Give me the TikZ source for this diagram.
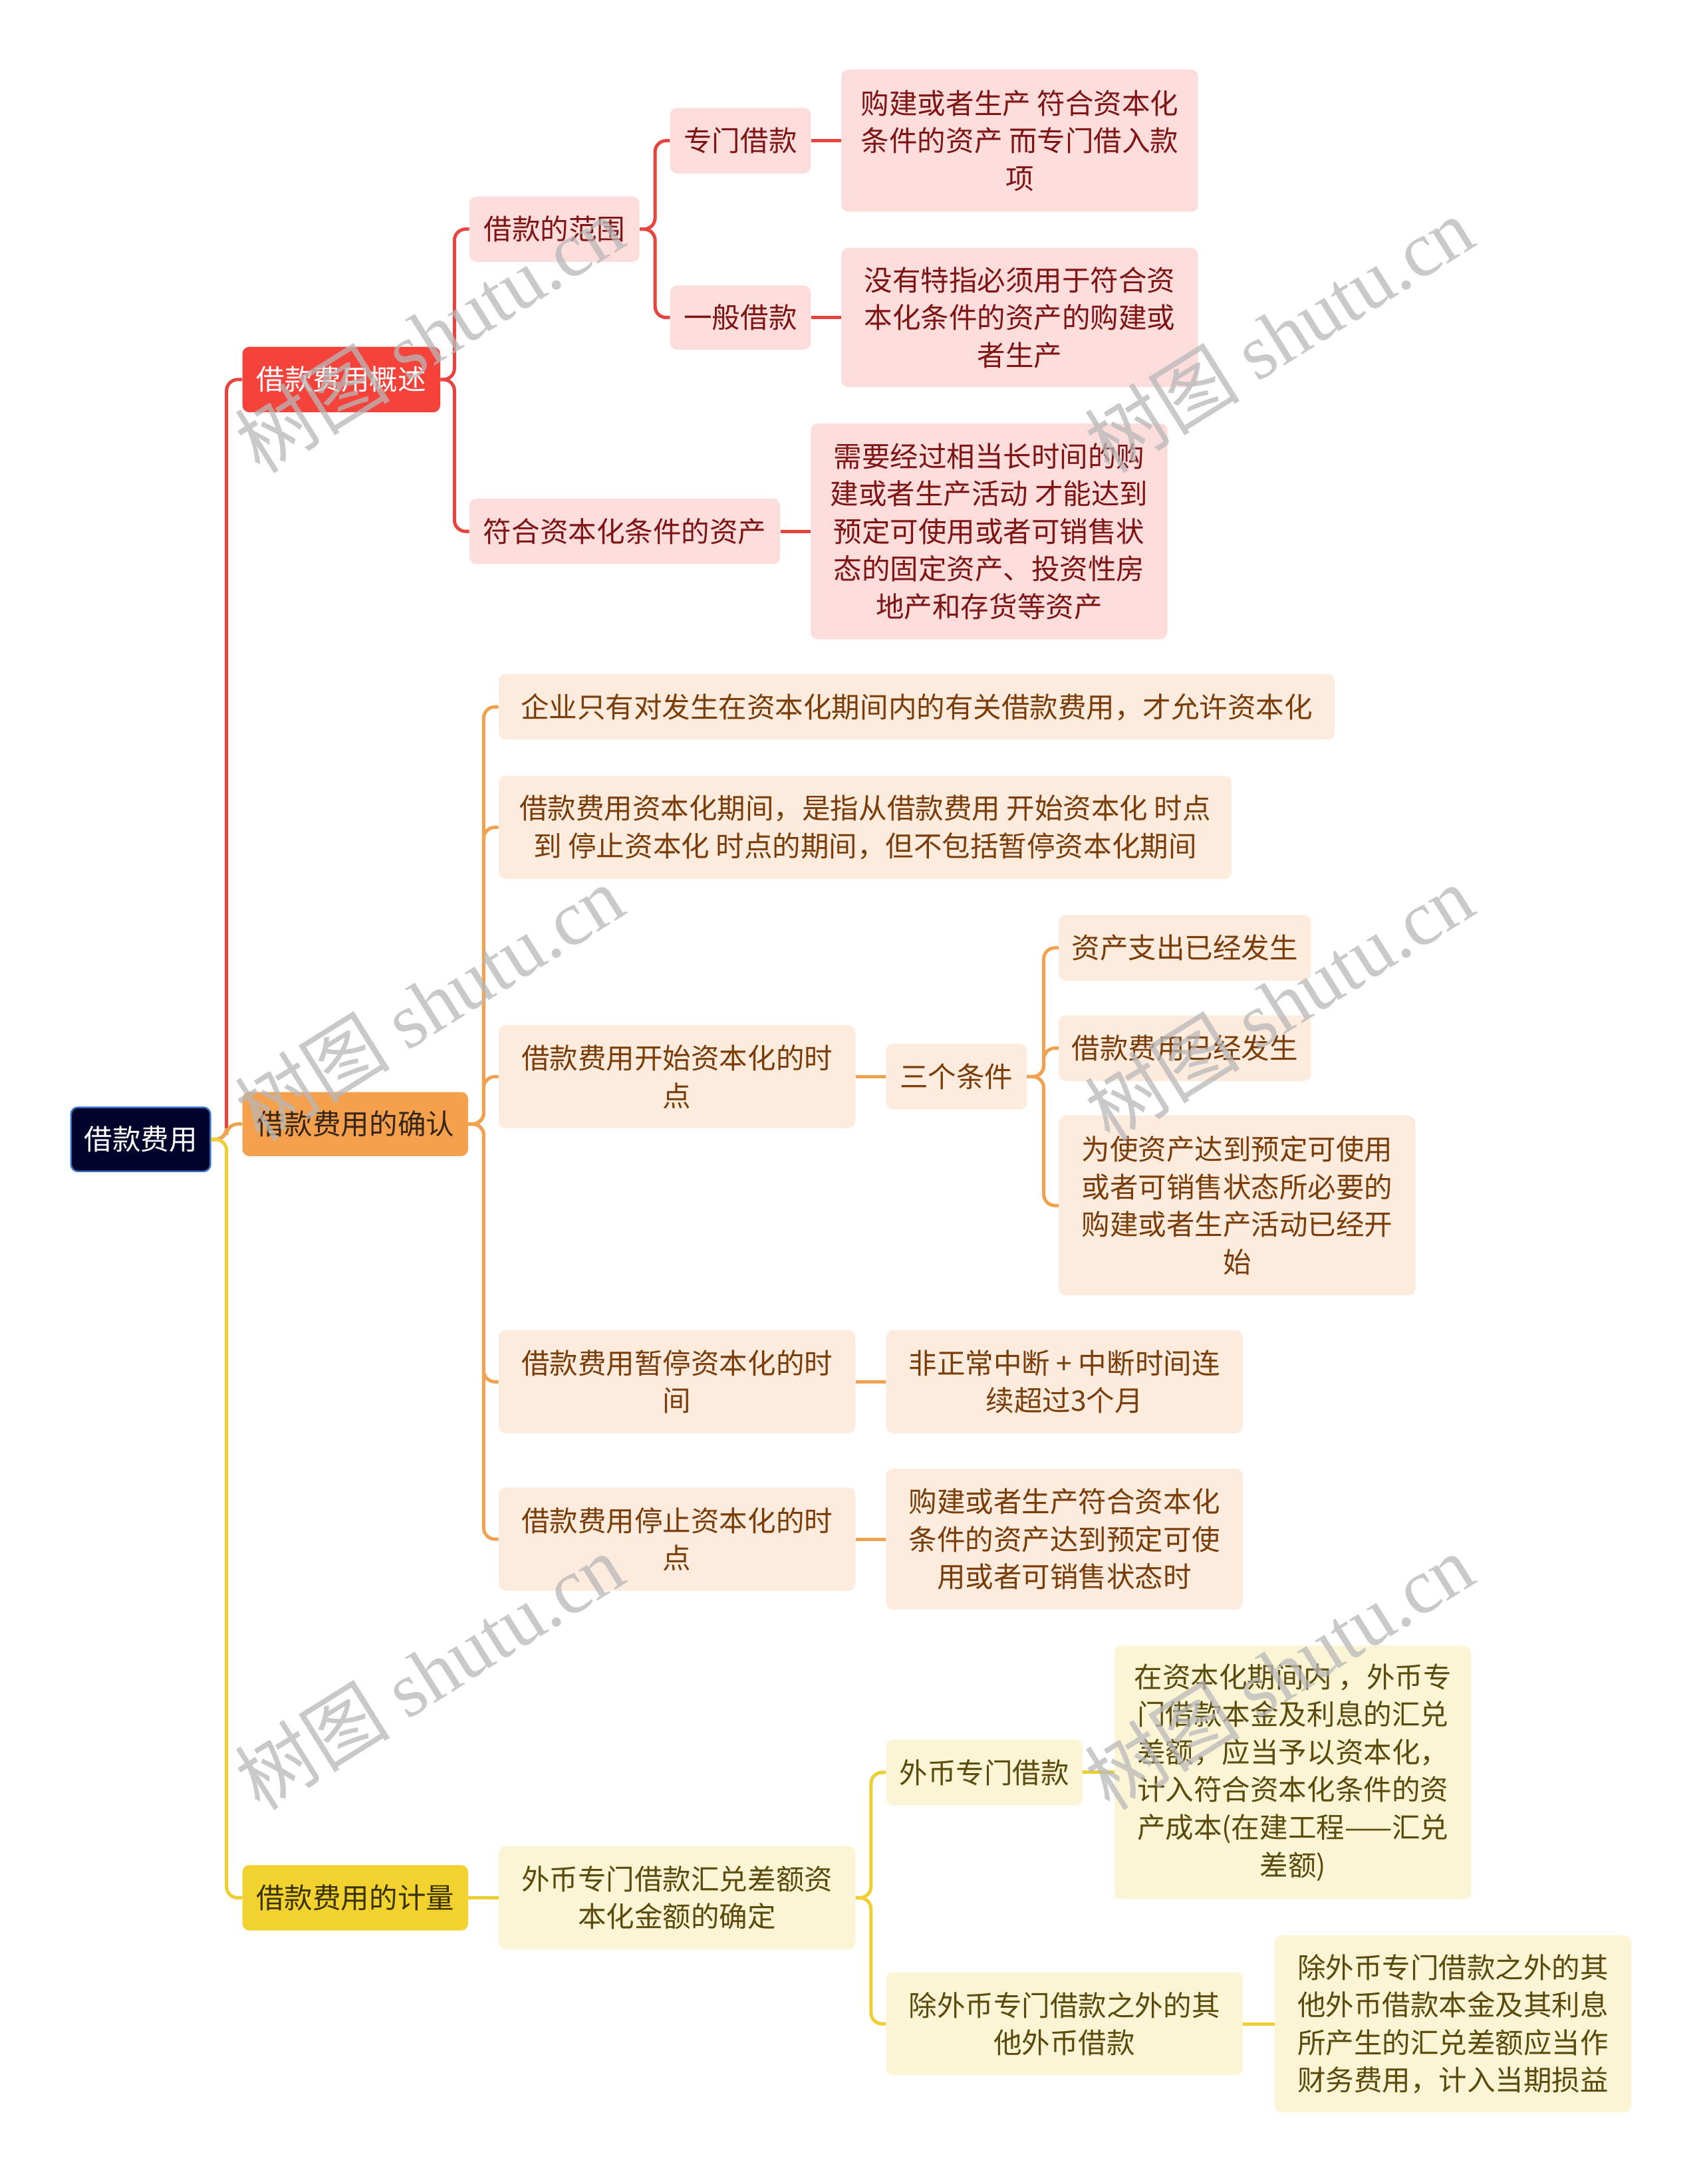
\documentclass[tikz,border=0pt]{standalone}
\usepackage{fontspec}
\setmainfont{Noto Sans CJK SC}
\newfontfamily\wmlatin{Liberation Serif}
\definecolor{rootfill}{HTML}{02032A}
\definecolor{rootborder}{HTML}{3A6FC6}
\definecolor{redmain}{HTML}{F5433C}
\definecolor{redline}{HTML}{E5453E}
\definecolor{pinkfill}{HTML}{FDDCDC}
\definecolor{redtext}{HTML}{7E1414}
\definecolor{orangemain}{HTML}{F4A04C}
\definecolor{orangeline}{HTML}{F0A250}
\definecolor{peachfill}{HTML}{FDEBDD}
\definecolor{orangetext}{HTML}{7A3D0A}
\definecolor{orangedark}{HTML}{352618}
\definecolor{yellowmain}{HTML}{F2D22E}
\definecolor{yellowline}{HTML}{EDCF32}
\definecolor{creamfill}{HTML}{FCF5D5}
\definecolor{yellowtext}{HTML}{5A4A0C}
\definecolor{yellowdark}{HTML}{3A3300}
\begin{document}
\begin{tikzpicture}[x=1pt,y=-1pt,
  base/.style={rounded corners=5pt, inner sep=0pt, align=center, font=\fontsize{20.3}{27}\selectfont},
  sz/.style n args={2}{minimum width=#1pt, minimum height=#2pt},
  rootbox/.style={base, fill=rootfill, draw=rootborder, line width=1.2pt, text=white},
  redtop/.style={base, fill=redmain, text=white},
  redsub/.style={base, fill=pinkfill, text=redtext},
  orangetop/.style={base, fill=orangemain, text=orangedark},
  orangesub/.style={base, fill=peachfill, text=orangetext},
  yellowtop/.style={base, fill=yellowmain, text=yellowdark},
  yellowsub/.style={base, fill=creamfill, text=yellowtext},
  rl/.style={draw=redline, line width=2.4pt, rounded corners=8pt},
  ol/.style={draw=orangeline, line width=2.4pt, rounded corners=8pt},
  yl/.style={draw=yellowline, line width=2.4pt, rounded corners=8pt},
  wm/.style={rotate=32, text=black!28, opacity=0.75, font=\fontsize{56}{60}\selectfont}
]
\useasboundingbox (0,0) rectangle (1222,1568);
\fill[white] (0,0) rectangle (1222,1568);

% root and level 1
\node[rootbox, sz={100}{46}] (root) at (101,818) {借款费用};
\node[redtop, sz={142}{47}] (n1) at (245,272.5) {借款费用概述};
\node[orangetop, sz={162}{46}] (n2) at (255,807) {借款费用的确认};
\node[yellowtop, sz={162}{47}] (n3) at (255,1362.5) {借款费用的计量};

% red branch
\node[redsub, sz={122}{47}] (a1) at (398,164.5) {借款的范围};
\node[redsub, sz={223}{47}] (a2) at (448.5,381.5) {符合资本化条件的资产};
\node[redsub, sz={101}{47}] (b1) at (531.5,101) {专门借款};
\node[redsub, sz={101}{46}] (b2) at (531.5,228) {一般借款};
\node[redsub, sz={256}{102}] (c1) at (732,101) {购建或者生产 符合资本化\\条件的资产 而专门借入款\\项};
\node[redsub, sz={256}{100}] (c2) at (732,228) {没有特指必须用于符合资\\本化条件的资产的购建或\\者生产};
\node[redsub, sz={256}{155}] (c3) at (710,381.5) {需要经过相当长时间的购\\建或者生产活动 才能达到\\预定可使用或者可销售状\\态的固定资产、投资性房\\地产和存货等资产};

% orange branch
\node[orangesub, sz={600}{47}] (o1) at (658,507.5) {企业只有对发生在资本化期间内的有关借款费用，才允许资本化};
\node[orangesub, sz={526}{74}] (o2) at (621,594) {借款费用资本化期间，是指从借款费用 开始资本化 时点\\到 停止资本化 时点的期间，但不包括暂停资本化期间};
\node[orangesub, sz={256}{74}] (o3) at (486,773) {借款费用开始资本化的时\\点};
\node[orangesub, sz={256}{74}] (o4) at (486,992) {借款费用暂停资本化的时\\间};
\node[orangesub, sz={256}{74}] (o5) at (486,1105) {借款费用停止资本化的时\\点};
\node[orangesub, sz={101}{47}] (k) at (686.5,773) {三个条件};
\node[orangesub, sz={181}{47}] (s1) at (850.5,680.5) {资产支出已经发生};
\node[orangesub, sz={181}{47}] (s2) at (850.5,752.5) {借款费用已经发生};
\node[orangesub, sz={256}{129}] (s3) at (888,865.5) {为使资产达到预定可使用\\或者可销售状态所必要的\\购建或者生产活动已经开\\始};
\node[orangesub, sz={256}{74}] (p4) at (764,992) {非正常中断 + 中断时间连\\续超过3个月};
\node[orangesub, sz={256}{101}] (p5) at (764,1105) {购建或者生产符合资本化\\条件的资产达到预定可使\\用或者可销售状态时};

% yellow branch
\node[yellowsub, sz={256}{74}] (y1) at (486,1362.5) {外币专门借款汇兑差额资\\本化金额的确定};
\node[yellowsub, sz={141}{47}] (y2) at (706.5,1272.5) {外币专门借款};
\node[yellowsub, sz={256}{74}] (y3) at (764,1453) {除外币专门借款之外的其\\他外币借款};
\node[yellowsub, sz={256}{182}] (y2a) at (928,1272.5) {在资本化期间内 ，外币专\\门借款本金及利息的汇兑\\差额，应当予以资本化，\\计入符合资本化条件的资\\产成本(在建工程——汇兑\\差额)};
\node[yellowsub, sz={256}{127}] (y3a) at (1043,1453) {除外币专门借款之外的其\\他外币借款本金及其利息\\所产生的汇兑差额应当作\\财务费用，计入当期损益};

% connectors from root
\draw[rl] (root.east) -- ++(11,0) |- (n1.west);
\draw[ol] (root.east) -- ++(11,0) |- (n2.west);
\draw[yl] (root.east) -- ++(11,0) |- (n3.west);

% red connectors
\draw[rl] (n1.east) -- ++(10,0) |- (a1.west);
\draw[rl] (n1.east) -- ++(10,0) |- (a2.west);
\draw[rl] (a1.east) -- ++(11,0) |- (b1.west);
\draw[rl] (a1.east) -- ++(11,0) |- (b2.west);
\draw[rl] (b1.east) -- (c1.west);
\draw[rl] (b2.east) -- (c2.west);
\draw[rl] (a2.east) -- (c3.west);

% orange connectors
\foreach \t in {o1,o2,o3,o4,o5}
  \draw[ol] (n2.east) -- ++(11,0) |- (\t.west);
\draw[ol] (o3.east) -- (k.west);
\foreach \t in {s1,s2,s3}
  \draw[ol] (k.east) -- ++(12,0) |- (\t.west);
\draw[ol] (o4.east) -- (p4.west);
\draw[ol] (o5.east) -- (p5.west);

% yellow connectors
\draw[yl] (n3.east) -- (y1.west);
\draw[yl] (y1.east) -- ++(11,0) |- (y2.west);
\draw[yl] (y1.east) -- ++(11,0) |- (y3.west);
\draw[yl] (y2.east) -- (y2a.west);
\draw[yl] (y3.east) -- (y3a.west);

% watermarks
\foreach \cx/\cy [count=\i] in {308/240, 918/240, 308/720, 918/720, 308/1200, 918/1200}
  \node[wm] (wm\i) at (\cx,\cy) {树图 {\wmlatin shutu.cn}};
\end{tikzpicture}
\end{document}
